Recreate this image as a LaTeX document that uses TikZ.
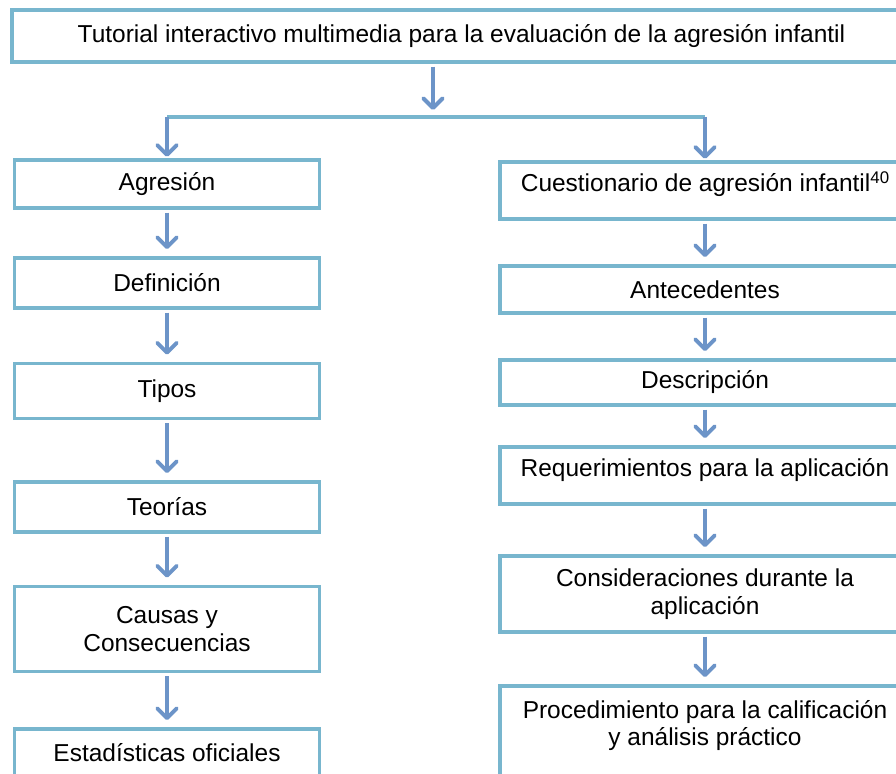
\documentclass[tikz,border=0pt]{standalone}
\usepackage{fontspec}
\setmainfont{Liberation Sans}
\usetikzlibrary{arrows.meta, positioning}
\definecolor{boxline}{RGB}{120,182,206}
\definecolor{arrowline}{RGB}{108,148,200}

\begin{document}
\begin{tikzpicture}[x=0.025cm, y=-0.025cm,
  every node/.style={font=\fontsize{17.4}{19.5}\selectfont, align=center},
  box/.style={draw=boxline, line width=2.6pt, fill=white, inner sep=0pt},
  lbox/.style={box, minimum width=7.625cm},
  rbox/.style={box, minimum width=10.25cm},
  arr/.style={draw=arrowline, line width=2.8pt, -{Straight Barb[round, length=7pt, width=14pt]}, shorten <=2pt, shorten >=5pt},
  bar/.style={draw=boxline, line width=2.6pt}]
\path[use as bounding box, clip] (0,0) rectangle (896,774);

\node[box, minimum width=22.475cm, minimum height=1.3cm] (tut) at (461.5,36) {Tutorial interactivo multimedia para la evaluación de la agresión infantil};

\node[lbox, minimum height=1.2cm] (agr) at (167,184) {Agresión};
\node[lbox, minimum height=1.25cm] (def) at (167,283) {Definición};
\node[lbox, minimum height=1.375cm] (tip) at (167,391) {Tipos};
\node[lbox, minimum height=1.25cm] (teo) at (167,507) {Teorías};
\node[lbox, minimum height=2.125cm] (cau) at (167,629) {Causas y\\Consecuencias};
\node[lbox, minimum height=1.2cm] (est) at (167,753) {Estadísticas oficiales};

\node[rbox, minimum height=1.425cm, text depth=13pt] (cue) at (705,190.5) {Cuestionario de agresión infantil\raisebox{0.32em}{\fontsize{12}{12}\selectfont 40}};
\node[rbox, minimum height=1.175cm] (ant) at (705,289.5) {Antecedentes};
\node[rbox, minimum height=1.125cm] (des) at (705,382.5) {Descripción};
\node[rbox, minimum height=1.425cm, text depth=11.5pt] (req) at (705,475.5) {Requerimientos para la aplicación};
\node[rbox, minimum height=1.9cm] (con) at (705,594) {Consideraciones durante la\\aplicación};
\node[rbox, minimum height=2.6cm, text depth=21pt] (pro) at (705,738) {Procedimiento para la calificación\\y análisis práctico};

\coordinate (split) at (433,117);
\coordinate (lsplit) at (167,117);
\coordinate (rsplit) at (705,117);

\draw[arr] (split |- tut.south) -- (split);
\draw[bar] (lsplit) -- (rsplit);
\draw[arr, shorten <=0pt, shorten >=1pt] (lsplit) -- (agr);
\draw[arr, shorten <=0pt, shorten >=1pt] (rsplit) -- (cue);

\draw[arr] (agr) -- (def);
\draw[arr] (def) -- (tip);
\draw[arr] (tip) -- (teo);
\draw[arr] (teo) -- (cau);
\draw[arr] (cau) -- (est);

\draw[arr] (cue) -- (ant);
\draw[arr] (ant) -- (des);
\draw[arr] (des) -- (req);
\draw[arr] (req) -- (con);
\draw[arr] (con) -- (pro);
\end{tikzpicture}
\end{document}
